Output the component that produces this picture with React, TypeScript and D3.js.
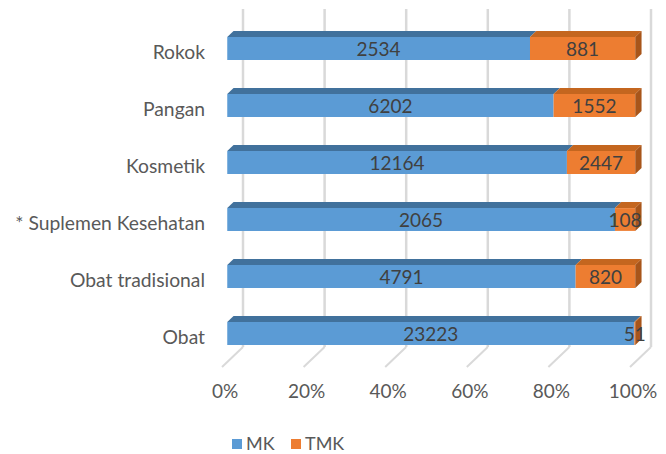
import * as d3 from 'd3';

const categories = ['Rokok', 'Pangan', 'Kosmetik', '* Suplemen Kesehatan', 'Obat tradisional', 'Obat'];
const mkValues = [2534, 6202, 12164, 2065, 4791, 23223];
const tmkValues = [881, 1552, 2447, 108, 820, 51];
const seriesNames = ['MK', 'TMK'];
const xTickValues = [0, 0.2, 0.4, 0.6, 0.8, 1];

const W = 666;
const H = 454;
const FONT = 'Lato, "Open Sans", sans-serif';
const TEXT = '#595959';

// depth of the 3d box: full depth shifts by (21, -20)
const DEPTH_X = 21;
const DEPTH_Y = -20;
const BAR_FRONT = 0.25;
const BAR_BACK = 0.55;

const colors = {
  MK: { front: '#5b9bd5', top: '#41719c', side: '#3a6891' },
  TMK: { front: '#ed7d31', top: '#c4661f', side: '#a8551a' },
};

function proj(x: number, y: number, d: number): [number, number] {
  return [x + DEPTH_X * d, y + DEPTH_Y * d];
}

function poly(pts: [number, number][]) {
  return pts.map((p) => p.join(',')).join(' ');
}

export default function App() {
  const x = d3.scaleLinear().domain([0, 1]).range([222, 630]);
  const y = d3
    .scaleBand<string>()
    .domain(categories)
    .range([25, 367])
    .paddingInner(0.6)
    .paddingOuter(0.3);

  const rows = categories.map((cat, i) => {
    const total = mkValues[i] + tmkValues[i];
    const stack = [
      { key: 'MK', value: mkValues[i], x0: 0, x1: mkValues[i] / total },
      { key: 'TMK', value: tmkValues[i], x0: mkValues[i] / total, x1: 1 },
    ];
    return { cat, stack };
  });

  const floorY = 367;
  const wallTop = 29;

  return (
    <svg width={W} height={H} style={{ position: 'absolute', left: 0, top: 0, background: '#fff' }}>
      {/* back wall gridlines */}
      {xTickValues.map((t) => {
        const [bx, by] = proj(x(t), floorY, 1);
        return (
          <g key={'g' + t}>
            <line x1={bx} x2={bx} y1={wallTop + DEPTH_Y} y2={by} stroke="#d9d9d9" strokeWidth={2.5} />
            <line x1={bx} y1={by} x2={x(t)} y2={floorY} stroke="#d9d9d9" strokeWidth={2} />
          </g>
        );
      })}

      {/* bars */}
      {rows.map(({ cat, stack }) => {
        const y0 = y(cat)!;
        const y1 = y0 + y.bandwidth();
        return (
          <g key={cat}>
            {stack.map((s, j) => {
              const c = colors[s.key as 'MK' | 'TMK'];
              const xa = x(s.x0);
              const xb = x(s.x1);
              const fA = proj(xa, y0, BAR_FRONT);
              const fB = proj(xb, y0, BAR_FRONT);
              const fB2 = proj(xb, y1, BAR_FRONT);
              const fA2 = proj(xa, y1, BAR_FRONT);
              const bA = proj(xa, y0, BAR_BACK);
              const bB = proj(xb, y0, BAR_BACK);
              const bB2 = proj(xb, y1, BAR_BACK);
              return (
                <g key={s.key}>
                  <polygon points={poly([fA, fB, bB, bA])} fill={c.top} />
                  <polygon points={poly([fA, fB, fB2, fA2])} fill={c.front} />
                  {j === stack.length - 1 && (
                    <polygon points={poly([fB, bB, bB2, fB2])} fill={c.side} />
                  )}
                </g>
              );
            })}
            {stack.map((s) => {
              const [cx, cy] = proj((x(s.x0) + x(s.x1)) / 2, (y0 + y1) / 2, BAR_FRONT);
              return (
                <text
                  key={'l' + s.key}
                  x={cx}
                  y={cy}
                  textAnchor="middle"
                  dominantBaseline="central"
                  fontFamily={FONT}
                  fontSize={19}
                  fill="#404040"
                >
                  {s.value}
                </text>
              );
            })}
          </g>
        );
      })}

      {/* category labels */}
      {categories.map((cat) => (
        <text
          key={'c' + cat}
          x={205}
          y={y(cat)! + y.bandwidth() / 2 - 2}
          textAnchor="end"
          dominantBaseline="central"
          fontFamily={FONT}
          fontSize={19.3}
          fill={TEXT}
        >
          {cat}
        </text>
      ))}

      {/* x axis labels */}
      {xTickValues.map((t) => (
        <text
          key={'t' + t}
          x={x(t) + 3}
          y={390}
          textAnchor="middle"
          dominantBaseline="central"
          fontFamily={FONT}
          fontSize={19}
          fill={TEXT}
        >
          {d3.format('.0%')(t)}
        </text>
      ))}

      {/* legend */}
      {seriesNames.map((name, i) => {
        const lx = i === 0 ? 232 : 291;
        return (
          <g key={'leg' + name}>
            <rect x={lx} y={439} width={10} height={10} fill={colors[name as 'MK' | 'TMK'].front} />
            <text
              x={lx + 14}
              y={443}
              dominantBaseline="central"
              fontFamily={FONT}
              fontSize={18}
              fill={TEXT}
            >
              {name}
            </text>
          </g>
        );
      })}
    </svg>
  );
}
